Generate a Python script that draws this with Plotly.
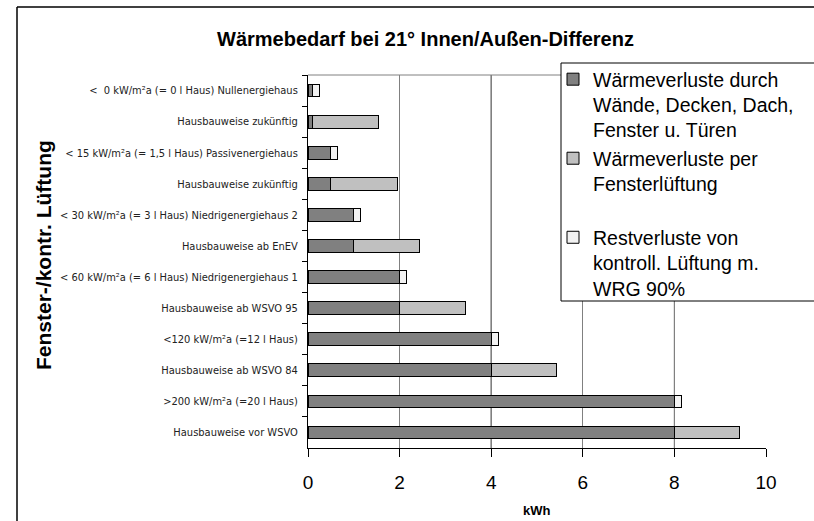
import plotly.graph_objects as go

# Categories, top to bottom (zero-width space keeps the duplicate label unique)
categories = [
    "<  0 kW/m²a (= 0 l Haus) Nullenergiehaus",
    "Hausbauweise zukünftig",
    "< 15 kW/m²a (= 1,5 l Haus) Passivenergiehaus",
    "Hausbauweise zukünftig\u200b",
    "< 30 kW/m²a (= 3 l Haus) Niedrigenergiehaus 2",
    "Hausbauweise ab EnEV",
    "< 60 kW/m²a (= 6 l Haus) Niedrigenergiehaus 1",
    "Hausbauweise ab WSVO 95",
    "<120 kW/m²a (=12 l Haus)",
    "Hausbauweise ab WSVO 84",
    ">200 kW/m²a (=20 l Haus)",
    "Hausbauweise vor WSVO",
]

waende = [0.1, 0.1, 0.5, 0.5, 1.0, 1.0, 2.0, 2.0, 4.0, 4.0, 8.0, 8.0]
fenster = [0, 1.45, 0, 1.45, 0, 1.44, 0, 1.43, 0, 1.42, 0, 1.43]
rest = [0.15, 0, 0.15, 0, 0.15, 0, 0.15, 0, 0.15, 0, 0.15, 0]

series_names = [
    "Wärmeverluste durch<br>Wände, Decken, Dach,<br>Fenster u. Türen",
    "Wärmeverluste per<br>Fensterlüftung<br> ",
    "Restverluste von<br>kontroll. Lüftung m.<br>WRG 90%",
]
x_ticks = [0, 2, 4, 6, 8, 10]

FONT = "Liberation Sans, Arial, sans-serif"
NARROW = "Liberation Sans Narrow, Arial Narrow, DejaVu Sans Condensed, sans-serif"

fig = go.Figure()
for vals, name, color in [
    (waende, series_names[0], "#808080"),
    (fenster, series_names[1], "#C0C0C0"),
    (rest, series_names[2], "#F2F2F2"),
]:
    fig.add_trace(go.Bar(
        y=categories, x=vals, name=name, orientation="h",
        marker=dict(color=color, line=dict(color="#000000", width=1)),
    ))

# plot area: x 308..766, y 75..448
L, R, T, B = 308, 766, 75, 448
W, H = 814, 521
pw, ph = R - L, B - T
EDGE = W  # right end of open frame lines (they run off the picture)

def px(xp):
    return (xp - L) / pw

def py(yp):
    return (B - yp) / ph

def seg(xa, ya, xb, yb, color="#000000", width=1, layer="above"):
    return dict(type="line", xref="paper", yref="paper",
                x0=px(xa), y0=py(ya), x1=px(xb), y1=py(yb),
                line=dict(color=color, width=width), layer=layer)

# gridlines at 4 and 8 appear darker in the original
dark_grid = [dict(type="line", xref="x", yref="paper", x0=v, x1=v, y0=0, y1=1,
                  line=dict(color="#000000", width=1), layer="below")
             for v in (x_ticks[2], x_ticks[4])]

fig.update_layout(
    width=W, height=H,
    margin=dict(l=L, r=W - R, t=T, b=H - B),
    barmode="stack", bargap=0.59,
    paper_bgcolor="white", plot_bgcolor="white",
    font=dict(family=FONT, color="#000000"),
    showlegend=True,
    legend=dict(
        x=px(553), xanchor="left", y=py(60), yanchor="top",
        bgcolor="rgba(0,0,0,0)", borderwidth=0,
        font=dict(family=FONT, size=19.5, color="#000000"),
        traceorder="normal", valign="top",
    ),
    xaxis=dict(
        range=[0, 10], tickvals=x_ticks, ticktext=[str(v) for v in x_ticks],
        showgrid=True, gridcolor="#808080", gridwidth=1,
        showline=True, linecolor="#000000", linewidth=1,
        ticks="outside", ticklen=8, tickcolor="#000000",
        tickfont=dict(family=FONT, size=19, color="#000000"),
        ticklabelstandoff=9, zeroline=False, fixedrange=True,
    ),
    yaxis=dict(
        type="category", autorange="reversed",
        categoryorder="array", categoryarray=categories,
        showgrid=False, showline=True, linecolor="#000000", linewidth=1,
        ticks="outside", ticklen=5, tickcolor="#000000", tickson="boundaries",
        tickfont=dict(family=NARROW, size=11, color="#222222"),
        ticklabelstandoff=7, fixedrange=True,
    ),
    shapes=dark_grid + [
        # outer chart frame: left and top edges
        seg(17, 521, 17, 7, width=1.5, layer="below"),
        seg(17, 7, EDGE, 7, width=1.5, layer="below"),
        # top border of plot area
        dict(type="line", xref="paper", yref="paper", x0=0, x1=1, y0=1, y1=1,
             line=dict(color="#808080", width=1)),
        # legend box: white fill, then left/top/bottom edges
        dict(type="rect", xref="paper", yref="paper",
             x0=px(561), x1=px(EDGE), y0=py(301), y1=py(63),
             fillcolor="white", line=dict(width=0), layer="above"),
        seg(561, 63, EDGE, 63),
        seg(561, 63, 561, 301),
        seg(561, 301, EDGE, 301),
    ],
    annotations=[
        dict(text="<b>Wärmebedarf bei 21° Innen/Außen-Differenz</b>",
             xref="paper", yref="paper", x=px(425), y=py(39),
             xanchor="center", yanchor="middle", showarrow=False,
             font=dict(family=FONT, size=20, color="#000000")),
        dict(text="<b>Fenster-/kontr. Lüftung</b>", textangle=-90,
             xref="paper", yref="paper", x=px(43), y=py(255),
             xanchor="center", yanchor="middle", showarrow=False,
             font=dict(family=FONT, size=21, color="#000000")),
        dict(text="<b>kWh</b>", xref="paper", yref="paper",
             x=0.5, y=py(510), xanchor="center", yanchor="middle", showarrow=False,
             font=dict(family=FONT, size=13, color="#000000")),
    ],
)

fig.write_html(
    "out.html",
    config={"displayModeBar": False},
    post_script=(
        "document.documentElement.style.overflow='hidden';"
        "document.body.style.margin='0';document.body.style.overflow='hidden';"
    ),
)
